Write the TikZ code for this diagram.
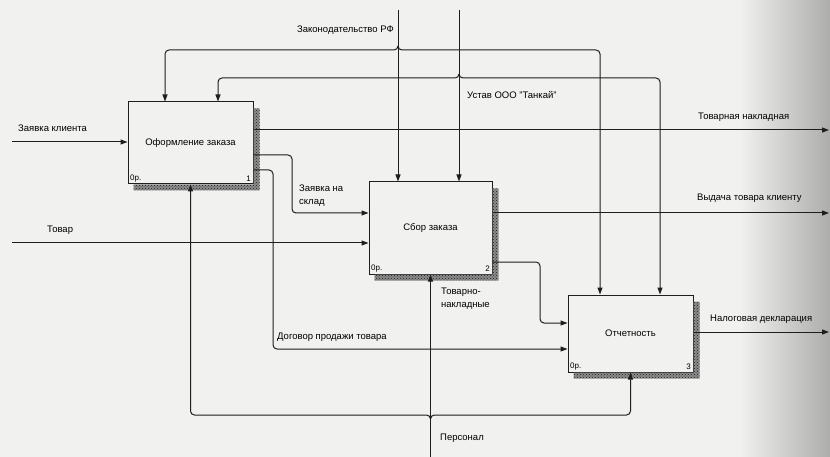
\documentclass[tikz,border=0pt]{standalone}
\usepackage{fontspec}
\setmainfont{Liberation Sans}
\usetikzlibrary{arrows.meta, positioning, calc, patterns}
\definecolor{PaperGray}{HTML}{F1F1EF}
\definecolor{EdgeGray}{HTML}{ADADAB}
\definecolor{InkBlack}{HTML}{1E1E1E}
\definecolor{ShadowGray}{HTML}{8C8C8C}
\tikzset{
    % Function blocks
    funcbox/.style={
        rectangle,
        draw=InkBlack,
        fill=PaperGray,
        line width=1pt,
        minimum width=125pt,
        minimum height=82pt,
        inner sep=0pt,
        text centered,
        font=\fontsize{9.5}{12}\selectfont
    },
    boxshadow/.style={
        fill=ShadowGray,
        postaction={pattern=crosshatch dots, pattern color=InkBlack}
    },
    cornerlabel/.style={
        inner sep=2.5pt,
        font=\fontsize{8}{9}\selectfont
    },
    % Arrow styles
    flow/.style={
        draw=InkBlack,
        line width=1pt,
        rounded corners=4pt,
        -{Triangle[length=7pt,width=5pt]}
    },
    arrowlabel/.style={
        inner sep=0pt,
        align=left,
        font=\fontsize{9.5}{13}\selectfont
    }
}
\begin{document}
\begin{tikzpicture}[x=1pt,y=-1pt]
            % Paper
            \fill[PaperGray] (0,0) rectangle (830,457);
            \shade[left color=PaperGray, right color=EdgeGray] (740,0) rectangle (830,457);
            \useasboundingbox (0,0) rectangle (830,457);

            % Function blocks
            \node[funcbox] (b1) at (190.5,143) {Оформление заказа};
            \node[funcbox, minimum width=123pt, minimum height=92pt] (b2) at (430.5,228) {Сбор заказа};
            \node[funcbox, minimum height=77pt] (b3) at (630.5,333.5) {Отчетность};
            \foreach \b/\n in {b1/1,b2/2,b3/3} {
                \fill[boxshadow] ([yshift=-7pt]\b.north east) -- ([xshift=6pt,yshift=-7pt]\b.north east)
                    -- ([xshift=6pt,yshift=-6pt]\b.south east) -- ([xshift=6pt,yshift=-6pt]\b.south west)
                    -- ([xshift=6pt]\b.south west) -- (\b.south east) -- cycle;
                \node[cornerlabel, anchor=south west] (\b op) at (\b.south west) {0р.};
                \node[cornerlabel, anchor=south east] (\b num) at (\b.south east) {\n};
            }

            % Inputs
            \coordinate (inClient) at (12,142);
            \coordinate (inGoods) at (12,243);
            \draw[flow] (inClient) -- (inClient -| b1.west);
            \draw[flow] (inGoods) -- (inGoods -| b2.west);
            \node[arrowlabel, anchor=west] (lClient) at (18,128) {Заявка клиента};
            \node[arrowlabel, anchor=west] (lGoods) at (47,230) {Товар};

            % Controls
            \coordinate (ctlLaw) at (398,10);
            \coordinate (ctlCharter) at (459,10);
            \coordinate (lawFork) at (398,50);
            \coordinate (charterFork) at (459,78);
            \draw[flow] (ctlLaw) -- (ctlLaw |- b2.north);
            \draw[flow] ([yshift=4pt]lawFork) -- (lawFork) -- (165,50) -- (165,0 |- b1.north);
            \draw[flow] ([yshift=4pt]lawFork) -- (lawFork) -- (600,50) -- (600,0 |- b3.north);
            \draw[flow] (ctlCharter) -- (ctlCharter |- b2.north);
            \draw[flow] ([yshift=4pt]charterFork) -- (charterFork) -- (218,78) -- (218,0 |- b1.north);
            \draw[flow] ([yshift=4pt]charterFork) -- (charterFork) -- (660,78) -- (660,0 |- b3.north);
            \node[arrowlabel, anchor=east] (lLaw) at (394,30) {Законодательство РФ};
            \node[arrowlabel, anchor=west] (lCharter) at (467,95) {Устав ООО "Танкай"};

            % Outputs
            \coordinate (outInvoice) at (829,130);
            \coordinate (outIssue) at (829,213);
            \coordinate (outTax) at (829,332);
            \draw[flow] (b1.east |- outInvoice) -- (outInvoice);
            \draw[flow] (b2.east |- outIssue) -- (outIssue);
            \draw[flow] (b3.east |- outTax) -- (outTax);
            \node[arrowlabel, anchor=west] (lInvoice) at (698,117) {Товарная накладная};
            \node[arrowlabel, anchor=west] (lIssue) at (697,198) {Выдача товара клиенту};
            \node[arrowlabel, anchor=west] (lTax) at (710,319) {Налоговая декларация};

            % Links between blocks
            \draw[flow] (b1.east |- 0,155) -- (292,155) -- (292,213) -- (b2.west |- 0,213);
            \draw[flow] (b1.east |- 0,170) -- (273,170) -- (273,349) -- (b3.west |- 0,349);
            \draw[flow] (b2.east |- 0,262) -- (540,262) -- (540,323) -- (b3.west |- 0,323);
            \node[arrowlabel, anchor=north west] (lStock) at (299,185) {Заявка на\\склад};
            \node[arrowlabel, anchor=west] (lContract) at (277,337) {Договор продажи товара};
            \node[arrowlabel, anchor=north west] (lWaybills) at (441,288) {Товарно-\\накладные};

            % Mechanism
            \coordinate (mechStaff) at (b2.south |- 0,457);
            \coordinate (staffFork) at (b2.south |- 0,415);
            \draw[flow] (mechStaff) -- (b2.south);
            \draw[flow] ([yshift=-4pt]staffFork) -- (staffFork) -- (b1.south |- staffFork) -- (b1.south);
            \draw[flow] ([yshift=-4pt]staffFork) -- (staffFork) -- (b3.south |- staffFork) -- (b3.south);
            \node[arrowlabel, anchor=west] (lStaff) at (440,438) {Персонал};
        \end{tikzpicture}
\end{document}
